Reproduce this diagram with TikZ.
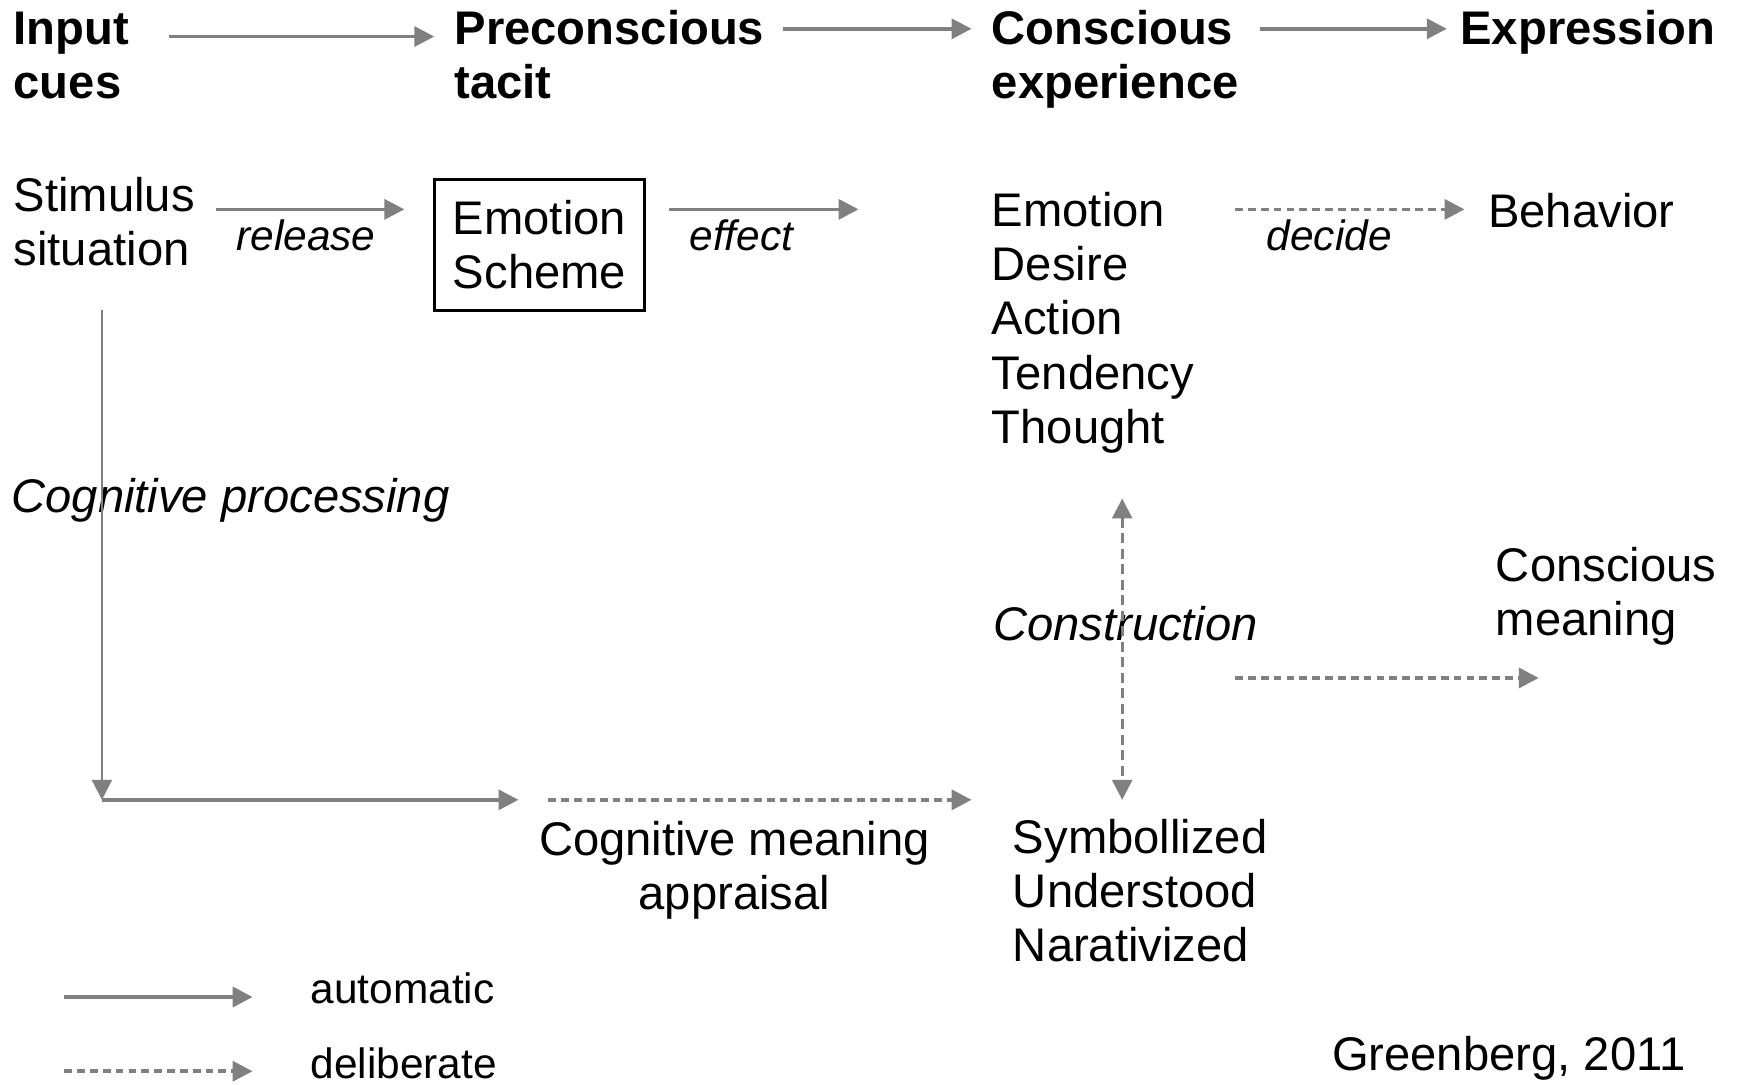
\documentclass[tikz,border=0pt]{standalone}
\usepackage{fontspec}
\setmainfont{Liberation Sans}
\usetikzlibrary{arrows.meta}
\definecolor{arrowgrey}{HTML}{808080}
\begin{document}
\begin{tikzpicture}[x=0.5pt,y=-0.5pt,
  txt/.style={inner sep=0pt, anchor=base west, align=left, font=\fontsize{21.3}{24.4}\selectfont},
  ttl/.style={txt, font=\fontsize{21.3}{24.5}\selectfont\bfseries},
  itl/.style={txt, font=\fontsize{21.3}{24.5}\selectfont\itshape},
  small/.style={txt, font=\fontsize{19.15}{22}\selectfont},
  smallit/.style={txt, font=\fontsize{19.15}{22}\selectfont\itshape},
  autoarr/.style={draw=arrowgrey, line width=1.6pt, -{Triangle[length=9pt,width=9pt]}},
  thinarr/.style={autoarr, line width=1.1pt},
  delibarr/.style={autoarr, line width=1.6pt, dash pattern=on 3.5pt off 2.3pt},
  constrarr/.style={draw=arrowgrey, line width=1.3pt, dash pattern=on 4.5pt off 2.5pt, {Triangle[length=9pt,width=9pt]}-{Triangle[length=9pt,width=9pt]}},
  boxstyle/.style={draw=black, line width=1.3pt, inner sep=0pt, minimum width=95pt, minimum height=59pt, align=center, font=\fontsize{21.3}{24.5}\selectfont}
]
\useasboundingbox (0,0) rectangle (1568,979);

% headings (base anchor = baseline of last line)
\node[ttl] (input) at (12,89) {Input\\cues};
\node[ttl] (precon) at (410,89) {Preconscious\\tacit};
\node[ttl] (consc) at (895,89) {Conscious\\experience};
\node[ttl] (expr) at (1318,40) {Expression};

% row 1
\node[txt] (stim) at (12,240) {Stimulus\\situation};
\node[boxstyle] (scheme) at (487,221) {Emotion\\Scheme};
\node[txt] (clist) at (895,400) {Emotion\\Desire\\Action\\Tendency\\Thought};
\node[txt] (behav) at (1343,205) {Behavior};
\node[smallit] (release) at (213,226) {release};
\node[smallit] (effect) at (622,226) {effect};
\node[smallit] (decide) at (1143,226) {decide};

% middle
\node[itl] (cogproc) at (10,463) {Cognitive processing};
\node[itl] (constr) at (896,578) {Construction};
\node[txt] (cmean) at (1350,574) {Conscious\\meaning};

% bottom
\node[txt, anchor=base, align=center] (cogmean) at (663,821) {Cognitive meaning\\appraisal};
\node[txt] (symb) at (914,868) {Symbollized\\Understood\\Narativized};

% legend
\node[small] (autol) at (280,906) {automatic};
\node[small] (delil) at (280,974) {deliberate};
\node[txt] (greenb) at (1202,966) {Greenberg, 2011};

% arrow end points
\coordinate (t1a) at (153,33); \coordinate (t1b) at (392,33);
\coordinate (t2a) at (707,26); \coordinate (t2b) at (877,26);
\coordinate (t3a) at (1137,26); \coordinate (t3b) at (1306,26);
\coordinate (ra) at (195,189); \coordinate (rb) at (365,189);
\coordinate (ea) at (604,189); \coordinate (eb) at (775,189);
\coordinate (da) at (1115,189); \coordinate (db) at (1322,189);
\coordinate (va) at (92,280); \coordinate (corner) at (92,722);
\coordinate (ha) at (468,722);
\coordinate (pa) at (495,722); \coordinate (pb) at (877,722);
\coordinate (ca) at (1013,450); \coordinate (cb) at (1013,722);
\coordinate (ma) at (1115,612); \coordinate (mb) at (1389,612);
\coordinate (la) at (58,900); \coordinate (lb) at (228,900);
\coordinate (lc) at (58,967); \coordinate (ld) at (228,967);

\draw[autoarr] (t1a) -- (t1b);
\draw[autoarr] (t2a) -- (t2b);
\draw[autoarr] (t3a) -- (t3b);
\draw[autoarr] (ra) -- (rb);
\draw[autoarr] (ea) -- (eb);
\draw[delibarr] (da) -- (db);
\draw[thinarr] (va) -- (corner);
\draw[autoarr] (corner) -- (ha);
\draw[delibarr] (pa) -- (pb);
\draw[constrarr] (ca) -- (cb);
\draw[delibarr] (ma) -- (mb);
\draw[autoarr] (la) -- (lb);
\draw[delibarr] (lc) -- (ld);
\end{tikzpicture}
\end{document}
